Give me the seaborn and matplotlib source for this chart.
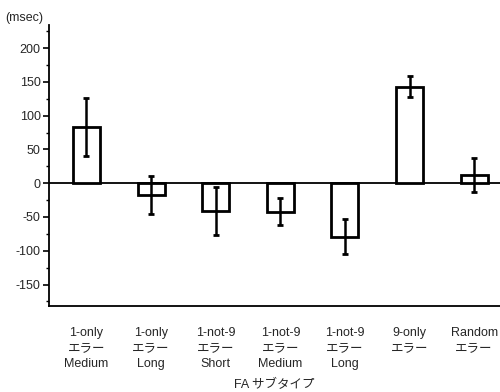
import matplotlib
matplotlib.use("Agg")
import matplotlib.pyplot as plt
import seaborn as sns
import pandas as pd
import numpy as np
from matplotlib.ticker import MultipleLocator

categories = ["1-only\nエラー\nMedium", "1-only\nエラー\nLong", "1-not-9\nエラー\nShort",
              "1-not-9\nエラー\nMedium", "1-not-9\nエラー\nLong", "9-only\nエラー", "Random\nエラー"]
values = [83, -18, -41, -42, -79, 143, 12]
errors = [43, 28, 36, 20, 26, 16, 25]
yticks = [200, 150, 100, 50, 0, -50, -100, -150]

sns.set_theme(style="ticks")
plt.rcParams['font.family'] = ['Liberation Sans', 'Noto Sans CJK JP', 'DejaVu Sans']

df = pd.DataFrame({"cat": categories, "val": values})

fig = plt.figure(figsize=(5.0, 3.92), dpi=100)
ax = fig.add_axes([0.098, 0.219, 0.902, 0.717])

sns.barplot(data=df, x="cat", y="val", ax=ax, color="white", edgecolor="black",
            linewidth=2, width=0.42, errorbar=None, saturation=1)
ax.errorbar(np.arange(len(values)), values, yerr=errors, fmt="none", ecolor="black",
            elinewidth=1.8, capsize=2.5, capthick=2)

ax.axhline(0, color="black", linewidth=1.3, zorder=0.5)
ax.set_xlim(-0.58, 6.4)
ax.set_ylim(-182, 234)
ax.set_yticks(yticks)
ax.set_yticklabels([str(v) for v in yticks], fontsize=9)
ax.yaxis.set_minor_locator(MultipleLocator(25))
ax.tick_params(axis="y", which="major", length=4, width=1.2, direction="out", color="black", pad=2)
ax.tick_params(axis="y", which="minor", length=2, width=1.0, direction="out", color="black")
ax.tick_params(axis="x", length=0, pad=15, labelsize=9)
for lab in ax.get_xticklabels():
    lab.set_linespacing(1.4)

for s in ["top", "right"]:
    ax.spines[s].set_visible(False)
for s in ["left", "bottom"]:
    ax.spines[s].set_linewidth(1.3)
    ax.spines[s].set_color("black")

ax.set_ylabel("")
ax.set_xlabel("FA サブタイプ", fontsize=9, labelpad=6)
fig.text(0.01, 0.955, "(msec)", fontsize=9, ha="left", va="center")

fig.savefig("out.png", dpi=100)
